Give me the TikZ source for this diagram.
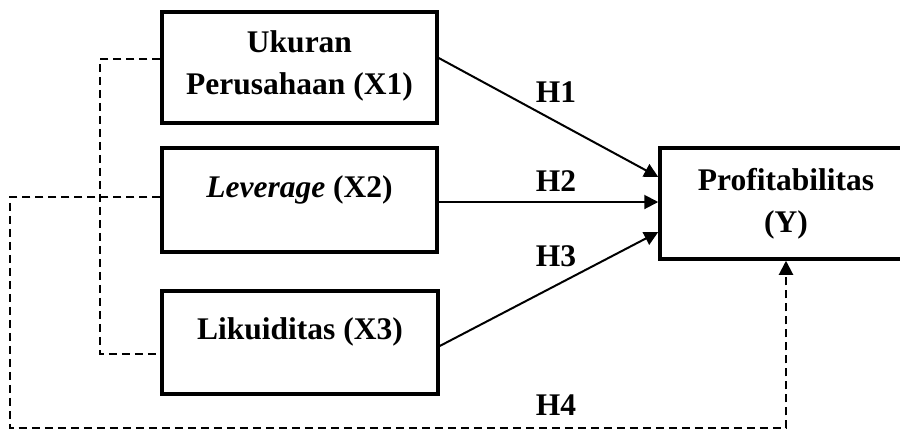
\documentclass[tikz,border=0pt]{standalone}
\usepackage{fontspec}
\setmainfont{Liberation Serif}
\usetikzlibrary{arrows.meta}
\begin{document}
\begin{tikzpicture}[x=1pt,y=-1pt,
  box/.style={draw, line width=3.5pt, inner sep=0pt},
  txt/.style={font=\fontsize{31.5}{42}\selectfont\bfseries, inner sep=0pt, anchor=base},
  tip/.style={-{Triangle[length=14pt,width=14pt]}},
  conn/.style={line width=2pt, tip},
  dline/.style={line width=2pt, dash pattern=on 8pt off 5pt}]
\useasboundingbox (0,0) rectangle (900,432);
\clip (0,0) rectangle (900,432);
% boxes
\node[box, minimum width=275pt, minimum height=111pt] (x1) at (299.5,67.5) {};
\node[box, minimum width=275pt, minimum height=104pt] (x2) at (299.5,200) {};
\node[box, minimum width=276pt, minimum height=103pt] (x3) at (300,342.5) {};
\node[box, minimum width=252pt, minimum height=111pt] (y) at (786,203.5) {};
% texts
\node[txt] (t1) at (299.5,52) {\begin{tabular}[t]{@{}c@{}}Ukuran\\Perusahaan (X1)\end{tabular}};
\node[txt] (t2) at (299.5,197) {\textit{Leverage} (X2)};
\node[txt] (t3) at (300,339) {Likuiditas (X3)};
\node[txt] (ty) at (786,190) {\begin{tabular}[t]{@{}c@{}}Profitabilitas\\(Y)\end{tabular}};
% hypothesis labels
\node[txt] (h1) at (556,102) {H1};
\node[txt] (h2) at (556,191) {H2};
\node[txt] (h3) at (556,266) {H3};
\node[txt] (h4) at (556,415) {H4};
% connectors
\draw[conn] ([yshift=9.5pt]x1.east) -- ([yshift=26.5pt]y.west);
\draw[conn] ([yshift=-2pt]x2.east) -- ([yshift=1.5pt]y.west);
\draw[conn] ([yshift=-3.5pt]x3.east) -- ([yshift=-28.5pt]y.west);
% dashed links
\coordinate (d1) at (100,200);
\draw[dline] ([yshift=8.5pt]x1.west) -| (d1) |- ([yshift=-11.5pt]x3.west);
\coordinate (d2) at (10,428);
\draw[dline, tip] ([yshift=3pt]x2.west) -| (d2) -| (y.south);
\end{tikzpicture}
\end{document}
